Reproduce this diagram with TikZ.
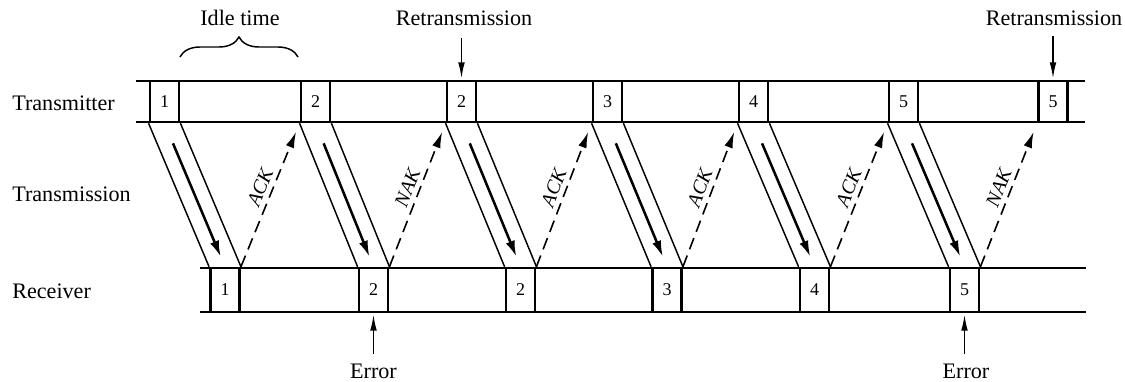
\documentclass[tikz,border=0pt]{standalone}
\usepackage{fontspec}
\setmainfont{Liberation Serif}
\usetikzlibrary{arrows.meta,calc,decorations.pathreplacing}
\begin{document}
\begin{tikzpicture}[x=0.75pt,y=-0.75pt,
  lbl/.style={font=\fontsize{16.6}{18}\selectfont, inner sep=0pt},
  txpkt/.style={draw, line width=1.9pt, minimum width=22pt, minimum height=30.75pt, inner sep=0pt, font=\fontsize{13.5}{15}\selectfont},
  rxpkt/.style={txpkt, minimum height=33pt},
  band/.style={line width=1.9pt},
  side/.style={line width=1.1pt},
  flow/.style={line width=1.9pt, -{Latex[length=12pt,width=7pt]}},
  reply/.style={line width=1.2pt, dash pattern=on 9pt off 5pt, -{Latex[length=12pt,width=6.5pt]}, shorten >=7pt},
  tag/.style={font=\fontsize{15}{17}\selectfont\itshape, sloped, above, inner sep=3.5pt},
  pointer/.style={line width=1.1pt, -{Latex[length=12pt,width=5pt]}, shorten >=1pt}
]
\useasboundingbox (0,0) rectangle (1125,382);

% bands
\coordinate (txTL) at (136,81);  \coordinate (txTR) at (1085,81);
\coordinate (txBL) at (136,122); \coordinate (txBR) at (1085,122);
\coordinate (rxTL) at (200,268); \coordinate (rxTR) at (1086,268);
\coordinate (rxBL) at (200,312); \coordinate (rxBR) at (1086,312);
\draw[band] (txTL) -- (txTR);
\draw[band] (txBL) -- (txBR);
\draw[band] (rxTL) -- (rxTR);
\draw[band] (rxBL) -- (rxBR);

% transmitter packets
\node[txpkt] (t1)  at (164.5,101.5) {1};
\node[txpkt] (t2)  at (315.5,101.5) {2};
\node[txpkt] (t2b) at (461.5,101.5) {2};
\node[txpkt] (t3)  at (607.5,101.5) {3};
\node[txpkt] (t4)  at (753.5,101.5) {4};
\node[txpkt] (t5)  at (903.5,101.5) {5};
\node[txpkt] (t5b) at (1053,101.5) {5};

% receiver packets
\node[rxpkt] (r1)  at (225,290) {1};
\node[rxpkt] (r2)  at (373.5,290) {2};
\node[rxpkt] (r2b) at (520.5,290) {2};
\node[rxpkt] (r3)  at (667,290) {3};
\node[rxpkt] (r4)  at (814.5,290) {4};
\node[rxpkt] (r5)  at (964.5,290) {5};

% transmissions
\foreach \a/\b in {t1/r1, t2/r2, t2b/r2b, t3/r3, t4/r4, t5/r5}{
  \draw[side] (\a.south west) -- (\b.north west);
  \draw[side] (\a.south east) -- (\b.north east);
  \draw[flow] ($(\a.south)!0.14!(\b.north)$) -- ($(\a.south)!0.93!(\b.north)$);
}

% replies
\draw[reply] (r1.north east) -- node[tag, pos=0.52] {ACK} (t2.south west);
\draw[reply] (r2.north east) -- node[tag, pos=0.52] {NAK} (t2b.south west);
\draw[reply] (r2b.north east) -- node[tag, pos=0.52] {ACK} (t3.south west);
\draw[reply] (r3.north east) -- node[tag, pos=0.52] {ACK} (t4.south west);
\draw[reply] (r4.north east) -- node[tag, pos=0.52] {ACK} (t5.south west);
\draw[reply] (r5.north east) -- node[tag, pos=0.52] {NAK} (t5b.south west);

% row labels
\node[lbl, anchor=base west] (ltx) at (12,110) {Transmitter};
\node[lbl, anchor=base west] (ltr) at (12,201) {Transmission};
\node[lbl, anchor=base west] (lrx) at (12,298) {Receiver};

% idle time
\node[lbl, anchor=base] (idle) at (240,26) {Idle time};
\coordinate (idleL) at (180,57);
\coordinate (idleR) at (298,57);
\draw[side, decorate, decoration={brace, amplitude=15pt}] (idleL) -- (idleR);

% retransmission markers
\node[lbl, anchor=base] (rt1) at (464,26) {Retransmission};
\node[lbl, anchor=base] (rt2) at (1054,26) {Retransmission};
\draw[pointer] ([yshift=-9pt]rt1.south -| t2b.north) -- (t2b.north);
\draw[pointer] ([yshift=-7pt]rt2.south -| t5b.north) -- (t5b.north);

% error markers
\node[lbl, anchor=base] (e1) at (373.5,378) {Error};
\node[lbl, anchor=base] (e2) at (966,378) {Error};
\draw[pointer] ([yshift=7pt]e1.north -| r2.south) -- (r2.south);
\draw[pointer] ([yshift=7pt]e2.north -| r5.south) -- (r5.south);
\end{tikzpicture}
\end{document}
